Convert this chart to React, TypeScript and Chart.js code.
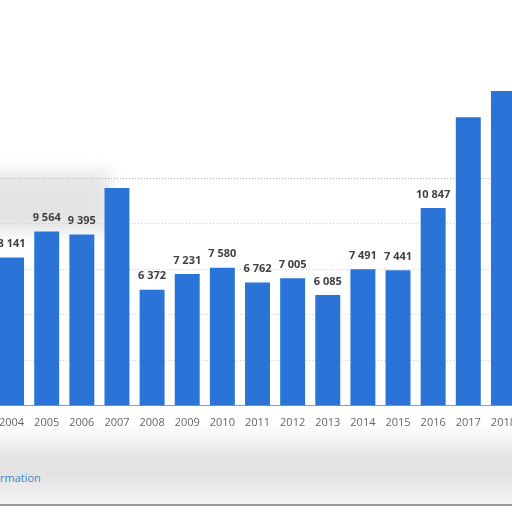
import React, { useEffect, useRef } from "react";
import { Chart, registerables } from "chart.js";

Chart.register(...registerables);

const years = ["2004", "2005", "2006", "2007", "2008", "2009", "2010", "2011", "2012", "2013", "2014", "2015", "2016", "2017", "2018"];
const values = [8141, 9564, 9395, 11945, 6372, 7231, 7580, 6762, 7005, 6085, 7491, 7441, 10847, 15830, 17280];
const shownLabels = [true, true, true, false, true, true, true, true, true, true, true, true, true, false, false];
const yTicks = [0, 2500, 5000, 7500, 10000, 12500];

const fmt = (v: number) => String(v).replace(/\B(?=(\d{3})+(?!\d))/g, " ");

const valueLabels = {
  id: "valueLabels",
  afterDatasetsDraw(chart: any) {
    const ctx = chart.ctx;
    const meta = chart.getDatasetMeta(0);
    ctx.save();
    ctx.font = "bold 11px 'Open Sans'";
    ctx.fillStyle = "#404040";
    ctx.textAlign = "center";
    ctx.textBaseline = "bottom";
    meta.data.forEach((bar: any, i: number) => {
      if (!shownLabels[i]) return;
      ctx.fillText(fmt(values[i]), bar.x, bar.y - 8);
    });
    ctx.restore();
  },
};

export default function App() {
  const ref = useRef<HTMLCanvasElement>(null);
  useEffect(() => {
    document.body.style.overflow = "hidden";
    const chart = new Chart(ref.current!, {
      type: "bar",
      data: {
        labels: years,
        datasets: [
          {
            data: values,
            backgroundColor: "#2a74d8",
            barPercentage: 0.71,
            categoryPercentage: 1,
            clip: false as any,
          },
        ],
      },
      options: {
        animation: false,
        responsive: true,
        maintainAspectRatio: false,
        layout: { padding: { top: 178, bottom: 81, left: 0, right: 0 } },
        plugins: { legend: { display: false }, tooltip: { enabled: false } },
        scales: {
          x: {
            grid: { display: false },
            border: { color: "#9a9a9a", width: 1 },
            ticks: { color: "#666", font: { family: "'Open Sans'", size: 11 }, padding: 2 },
          },
          y: {
            min: 0,
            max: 12500,
            afterFit: (s: any) => { s.width = 0; },
            afterBuildTicks: (s: any) => { s.ticks = yTicks.map((v) => ({ value: v })); },
            ticks: { display: false },
            border: { display: false, dash: [1, 2] },
            grid: {
              drawTicks: false,
              color: (c: any) => (c.tick && c.tick.value === 12500 ? "#b0b0b0" : "#cfcfcf"),
              lineWidth: 1,
            },
          },
        },
      },
      plugins: [valueLabels],
    });
    return () => chart.destroy();
  }, []);
  return (
    <div style={{ position: "fixed", left: 0, top: 0, width: 512, height: 512, overflow: "hidden", background: "#fff" }}>
      <div style={{ position: "absolute", left: -20, top: 172, width: 130, height: 60, background: "#e4e4e4", filter: "blur(8px)" }} />
      <div style={{ position: "absolute", left: 0, top: 425, width: 512, height: 80, background: "linear-gradient(180deg, #ffffff 0%, #e6e6e6 35%, #e2e2e2 60%, #f4f4f4 100%)" }} />
      <div style={{ position: "absolute", left: 0, top: 504, width: 512, height: 2, background: "#9a9a9a" }} />
      <div style={{ position: "absolute", left: 0, top: 470, fontFamily: "'Open Sans'", fontSize: 11, color: "#3d87c0" }}>rmation</div>
      <div style={{ position: "absolute", left: -6, top: 0, width: 527, height: 512 }}>
        <canvas ref={ref} />
      </div>
    </div>
  );
}
